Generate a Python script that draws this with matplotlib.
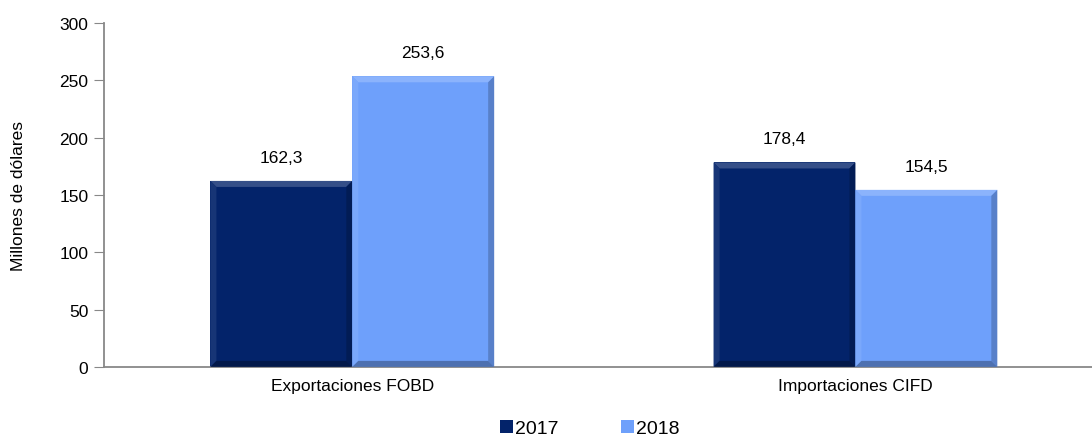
import numpy as np
import matplotlib.pyplot as plt
from matplotlib.patches import Polygon, Patch
import matplotlib.colors as mcolors

plt.rcParams['font.family'] = ['Liberation Sans', 'DejaVu Sans']

categories = ["Exportaciones FOBD", "Importaciones CIFD"]
years = ["2017", "2018"]
values_2017 = [162.3, 178.4]
values_2018 = [253.6, 154.5]
colors = ["#03236A", "#6EA0FB"]


def fmt(v):
    return f"{v:.1f}".replace(".", ",")


def bevel(ax, rect, color, d_px=6):
    # fake "beveled" look: lighter top/left, darker bottom/right edges
    x0, y0 = rect.get_x(), rect.get_y()
    w, h = rect.get_width(), rect.get_height()
    x1, y1 = x0 + w, y0 + h
    trans = ax.transData
    inv = trans.inverted()
    (px0, py0), (px1, py1) = trans.transform([(x0, y0), (x1, y1)])
    d = d_px
    pts = {
        "top": [(px0, py1), (px1, py1), (px1 - d, py1 - d), (px0 + d, py1 - d)],
        "left": [(px0, py0), (px0, py1), (px0 + d, py1 - d), (px0 + d, py0 + d)],
        "right": [(px1, py0), (px1, py1), (px1 - d, py1 - d), (px1 - d, py0 + d)],
        "bottom": [(px0, py0), (px1, py0), (px1 - d, py0 + d), (px0 + d, py0 + d)],
    }
    base = np.array(mcolors.to_rgb(color))
    shades = {
        "top": base + (1 - base) * 0.2,
        "left": base + (1 - base) * 0.08,
        "right": base * 0.8,
        "bottom": base * 0.7,
    }
    for k, p in pts.items():
        ax.add_patch(Polygon(inv.transform(p), closed=True, facecolor=shades[k],
                             edgecolor="none", zorder=3))


fig, ax = plt.subplots(figsize=(10.92, 4.39), dpi=100)
fig.subplots_adjust(left=0.095, right=1.0165, top=0.945, bottom=0.162)

x = np.arange(len(categories))
width = 0.282
bars1 = ax.bar(x - width / 2, values_2017, width, color=colors[0], zorder=2, linewidth=0)
bars2 = ax.bar(x + width / 2, values_2018, width, color=colors[1], zorder=2, linewidth=0)

ax.set_xlim(-0.494, 1.506)
ax.set_ylim(0, 300)
ax.set_yticks(range(0, 301, 50))
ax.set_xticks(x)
ax.set_xticklabels(categories, fontsize=12.5)
ax.tick_params(axis="x", length=0, pad=8)
ax.tick_params(axis="y", labelsize=12.5, length=7, color="#888888", direction="out", pad=4)
ax.set_ylabel("Millones de dólares", fontsize=12.5, labelpad=24)
for s in ["top", "right"]:
    ax.spines[s].set_visible(False)
ax.spines["left"].set_color("#888888")
ax.spines["bottom"].set_color("#888888")
ax.spines["left"].set_linewidth(1.3)
ax.spines["bottom"].set_linewidth(1.3)

fig.canvas.draw()
for bars, col in [(bars1, colors[0]), (bars2, colors[1])]:
    for b in bars:
        bevel(ax, b, col)
        ax.text(b.get_x() + b.get_width() / 2, b.get_height() + 14, fmt(b.get_height()),
                ha="center", va="bottom", fontsize=12.5)

handles = [Patch(facecolor=c, edgecolor="none") for c in colors]
fig.legend(handles, years, loc="lower center", ncol=2, frameon=False, fontsize=14,
           handlelength=0.7, handleheight=0.7, handletextpad=0.1, columnspacing=3.2,
           bbox_to_anchor=(0.54, -0.038))

fig.savefig("out.png", dpi=100)
